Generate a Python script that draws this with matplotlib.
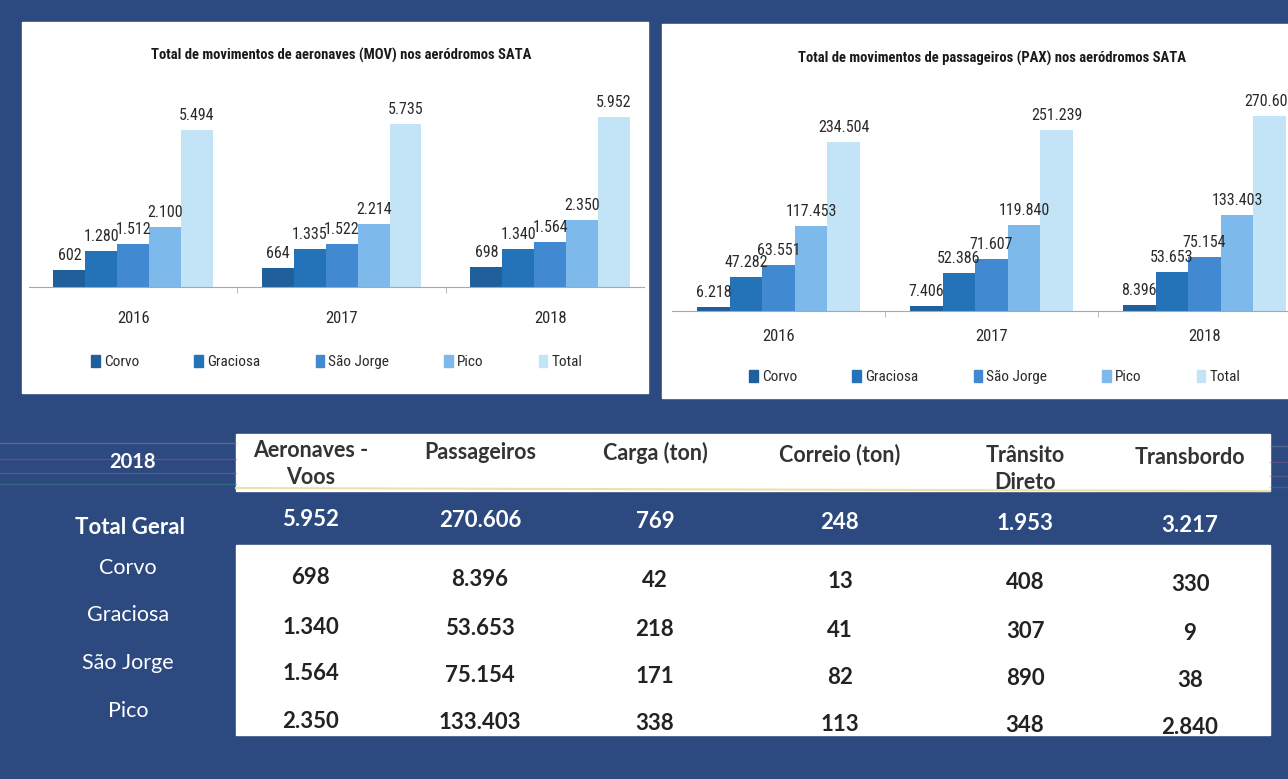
import matplotlib.pyplot as plt
from matplotlib import font_manager
from matplotlib.patches import Patch, Rectangle


W, H = 1288, 779
DPI = 100

BG_BLUE = '#2c4a80'
SERIES_COLORS = ['#1f5f9c', '#2472b8', '#4189d0', '#7db9ea', '#c3e3f7']


def pick_font(candidates):
    installed = {f.name for f in font_manager.fontManager.ttflist}
    for name in candidates:
        if name in installed:
            return [name, 'DejaVu Sans']
    return ['DejaVu Sans']


CHART_FONT = pick_font(['Liberation Sans Narrow', 'DejaVu Sans Condensed',
                        'Roboto Condensed', 'Lato'])
TABLE_FONT = pick_font(['Lato', 'Open Sans'])

years = ['2016', '2017', '2018']
islands = ['Corvo', 'Graciosa', 'São Jorge', 'Pico', 'Total']

# aircraft movements (MOV), one list per island, values per year
mov_corvo = [602, 664, 698]
mov_graciosa = [1280, 1335, 1340]
mov_sao_jorge = [1512, 1522, 1564]
mov_pico = [2100, 2214, 2350]
mov_total = [5494, 5735, 5952]

# passenger movements (PAX)
pax_corvo = [6218, 7406, 8396]
pax_graciosa = [47282, 52386, 53653]
pax_sao_jorge = [63551, 71607, 75154]
pax_pico = [117453, 119840, 133403]
pax_total = [234504, 251239, 270606]

# 2018 summary table
table_year = '2018'
table_columns = ['Aeronaves -\nVoos', 'Passageiros', 'Carga (ton)',
                 'Correio (ton)', 'Trânsito\nDireto', 'Transbordo']
table_total_label = 'Total Geral'
table_total = [5952, 270606, 769, 248, 1953, 3217]
table_rows = ['Corvo', 'Graciosa', 'São Jorge', 'Pico']
table_corvo = [698, 8396, 42, 13, 408, 330]
table_graciosa = [1340, 53653, 218, 41, 307, 9]
table_sao_jorge = [1564, 75154, 171, 82, 890, 38]
table_pico = [2350, 133403, 338, 113, 348, 2840]

TILT = 0.007  # the scan is slightly rotated


def fmt(v):
    return f'{v:,}'.replace(',', '.')


def px_axes(fig, x0, y0, x1, y1):
    return fig.add_axes([x0 / W, 1 - y1 / H, (x1 - x0) / W, (y1 - y0) / H])


def draw_chart(fig, box, series, title, title_xy, xlim, ymax, tick_pad,
               legend_xy, legend_spacing):
    ax = px_axes(fig, *box)
    ax.set_facecolor('none')
    bw = 0.153
    xs = range(len(years))
    for i, (name, vals) in enumerate(zip(islands, series)):
        pos = [x + (i - 2) * bw for x in xs]
        bars = ax.bar(pos, vals, width=bw, color=SERIES_COLORS[i], label=name)
        labels = ax.bar_label(bars, labels=[fmt(v) for v in vals], padding=5,
                              fontsize=11.5, color='#2a2a2a', clip_on=False)
        for t in labels:
            t.set_family(CHART_FONT)
    ax.set_xlim(*xlim)
    ax.set_ylim(0, ymax)
    ax.set_yticks([])
    ax.set_xticks(list(xs))
    ax.set_xticklabels(years, family=CHART_FONT, fontsize=12, color='#2a2a2a')
    ax.tick_params(axis='x', length=0, pad=tick_pad)
    ax.set_xticks([0.5, 1.5], minor=True)
    ax.tick_params(axis='x', which='minor', length=4, color='#b0b0b0')
    for side in ['top', 'left', 'right']:
        ax.spines[side].set_visible(False)
    ax.spines['bottom'].set_color('#a8a8a8')
    fig.text(title_xy[0] / W, 1 - title_xy[1] / H, title, ha='center',
             va='center', fontsize=10.5, fontweight='bold', color='#1a1a1a',
             family=CHART_FONT)
    handles = [Patch(color=c) for c in SERIES_COLORS]
    leg = fig.legend(handles, islands, loc='center', ncol=5, frameon=False,
                     bbox_to_anchor=(legend_xy[0] / W, 1 - legend_xy[1] / H),
                     handlelength=0.55, handleheight=0.9, handletextpad=0.3,
                     columnspacing=legend_spacing,
                     prop={'family': CHART_FONT, 'size': 11})
    for t in leg.get_texts():
        t.set_color('#2a2a2a')
    return ax


fig = plt.figure(figsize=(W / DPI, H / DPI), dpi=DPI, facecolor=BG_BLUE)

# background layer in pixel coordinates
bg = fig.add_axes([0, 0, 1, 1])
bg.set_xlim(0, W)
bg.set_ylim(H, 0)
bg.axis('off')
bg.add_patch(Rectangle((22, 22), 626, 371, color='white'))
bg.add_patch(Rectangle((662, 24), 640, 374, color='white'))

# scan stripes across the table header
for y, c in [(443, '#8a8fa8'), (459, '#9a5f86'), (473, '#8d6f90'),
             (484, '#3f8f86')]:
    bg.plot([0, 236], [y, y], color=c, lw=1.0, alpha=0.45)
    bg.plot([1270, W], [y + 3, y + 3], color=c, lw=1.0, alpha=0.4)

# table header band and body
bg.add_patch(Rectangle((236, 434), 1034, 57, color='white'))
bg.plot([236, 1270], [488, 491], color='#ece2a8', lw=1.5)
bg.add_patch(Rectangle((236, 545), 1034, 190, color='white'))

col_x = [311, 480, 655, 840, 1025, 1190]


def tilt(x, y):
    return y + TILT * (x - col_x[0])


bg.text(133, 462, table_year, ha='center', va='center', color='white',
        fontsize=14.5, fontweight='bold', family=TABLE_FONT)
for x, name in zip(col_x, table_columns):
    y = 464 if '\n' in name else 451
    bg.text(x, tilt(x, y), name, ha='center', va='center', color='#333333',
            fontsize=15.5, fontweight='bold', family=TABLE_FONT,
            linespacing=1.3)

bg.text(130, 527, table_total_label, ha='center', va='center', color='white',
        fontsize=16, fontweight='bold', family=TABLE_FONT)
for x, v in zip(col_x, table_total):
    bg.text(x, tilt(x, 519), fmt(v), ha='center', va='center', color='white',
            fontsize=16, fontweight='bold', family=TABLE_FONT)

row_label_y = [568, 615, 663, 711]
row_value_y = [578, 627, 674, 721]
table_values = [table_corvo, table_graciosa, table_sao_jorge, table_pico]
for name, ly, vy, vals in zip(table_rows, row_label_y, row_value_y,
                              table_values):
    bg.text(128, ly, name, ha='center', va='center', color='white',
            fontsize=15.5, family=TABLE_FONT)
    for x, v in zip(col_x, vals):
        bg.text(x, tilt(x, vy), fmt(v), ha='center', va='center',
                color='#222222', fontsize=16, fontweight='bold',
                family=TABLE_FONT)

draw_chart(fig, (29, 100, 644, 287),
           [mov_corvo, mov_graciosa, mov_sao_jorge, mov_pico, mov_total],
           'Total de movimentos de aeronaves (MOV) nos aeródromos SATA',
           (341, 55), (-0.5, 2.45), 6560, 17, (337, 362), 3.6)

draw_chart(fig, (672, 100, 1288, 311),
           [pax_corvo, pax_graciosa, pax_sao_jorge, pax_pico, pax_total],
           'Total de movimentos de passageiros (PAX) nos aeródromos SATA',
           (992, 58), (-0.5, 2.392), 292800, 13, (995, 377), 3.6)

fig.savefig('out.png', dpi=DPI, facecolor=BG_BLUE)
